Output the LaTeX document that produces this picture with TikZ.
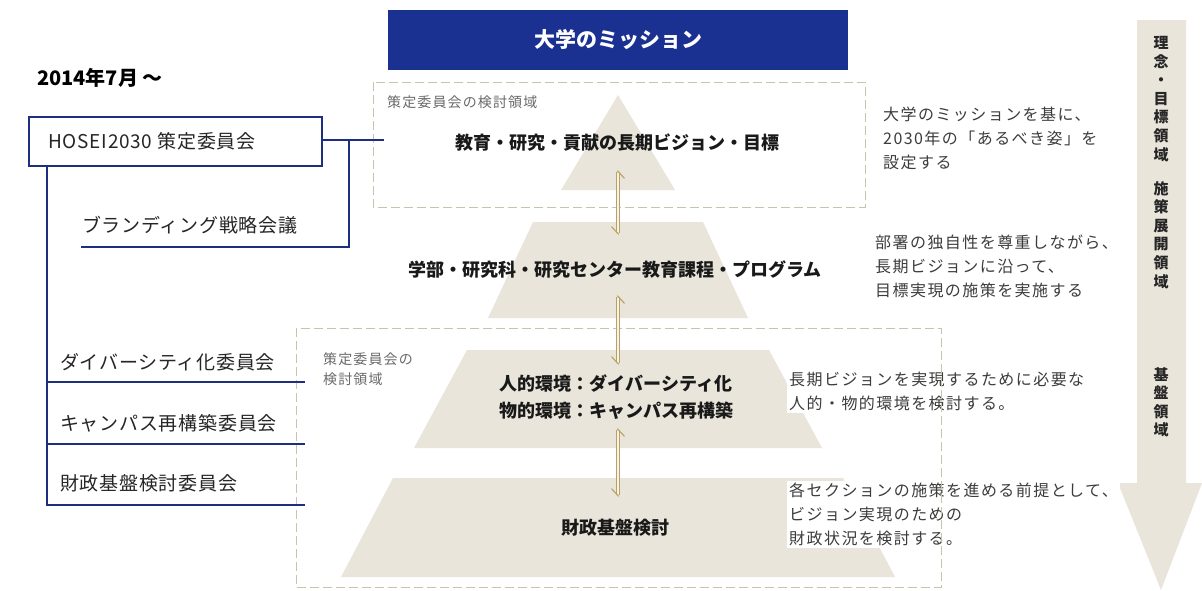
\documentclass[tikz,border=0pt]{standalone}
\usepackage{fontspec}
\setmainfont{Noto Sans CJK JP}
\usetikzlibrary{arrows.meta}
\definecolor{navy}{HTML}{1E2F80}
\definecolor{missionblue}{HTML}{1B3192}
\definecolor{tierc}{HTML}{E9E5DB}
\definecolor{dashc}{HTML}{C9C2AE}
\definecolor{goldc}{HTML}{BBA160}
\definecolor{descc}{HTML}{3C3C3C}
\definecolor{smallc}{HTML}{6A6A6A}
\begin{document}
\begin{tikzpicture}[x=1pt,y=-1pt,
  tiertext/.style={font=\fontsize{18}{27}\selectfont\bfseries, text=black!90, align=center, inner sep=0pt},
  desctext/.style={font=\fontsize{16}{24}\selectfont\addfontfeature{LetterSpace=9}, text=descc, align=left, anchor=north west, inner sep=2pt},
  committee/.style={font=\fontsize{19}{22}\selectfont\addfontfeature{LetterSpace=4}, text=black!85, anchor=west, inner sep=0pt},
  navyline/.style={draw=navy, line width=2.5pt},
  dashbox/.style={draw=dashc, dash pattern=on 9pt off 4pt, line width=1pt},
  smalllabel/.style={font=\fontsize{14}{20}\selectfont\addfontfeature{LetterSpace=8}, text=smallc, align=left, anchor=north west, inner sep=0pt},
  tierfill/.style={fill=tierc, draw=none},
  linkarrow/.style={draw=goldc, line width=1.1pt, double=tierc!50!white, double distance=1.6pt,
     {Straight Barb[harpoon,swap,length=7pt,width=13pt]}-{Straight Barb[harpoon,swap,length=7pt,width=13pt]}},
  sidetext/.style={font=\fontsize{15}{18.6}\selectfont\bfseries, text=black!85, align=center, anchor=north, inner sep=0pt}
]
\useasboundingbox (0,0) rectangle (1202,590);
\fill[white] (0,0) rectangle (1202,590);

% pyramid tiers
\fill[tierfill] (618,95) -- (675,190) -- (561,190) -- cycle;
\fill[tierfill] (533,222) -- (703,222) -- (748,318) -- (488,318) -- cycle;
\fill[tierfill] (467,350) -- (769,350) -- (822,448) -- (414,448) -- cycle;
\fill[tierfill] (393,478) -- (843,478) -- (895,577) -- (341,577) -- cycle;

% right side arrow
\fill[tierfill] (1137,20) -- (1186,20) -- (1186,483) -- (1202,483) -- (1161,590) -- (1118,483) -- (1137,483) -- cycle;
\node[sidetext] (s1) at (1161,36) {理\\念\\・\\目\\標\\領\\域};
\node[sidetext] (s2) at (1161,181) {施\\策\\展\\開\\領\\域};
\node[sidetext] (s3) at (1161,367) {基\\盤\\領\\域};

% mission
\node[fill=missionblue, minimum width=460pt, minimum height=60pt, inner sep=0pt,
  font=\fontsize{21}{24}\selectfont\bfseries, text=white] (mission) at (618,40) {大学のミッション};

% tier texts
\node[tiertext] (t1) at (617,143) {教育・研究・貢献の長期ビジョン・目標};
\node[tiertext] (t2) at (615,270) {学部・研究科・研究センター教育課程・プログラム};
\node[tiertext] (t3) at (616,397) {人的環境：ダイバーシティ化\\物的環境：キャンパス再構築};
\node[tiertext] (t4) at (615,528) {財政基盤検討};

% descriptions
\node[desctext] (d1) at (881,105) {大学のミッションを基に、\\2030年の「あるべき姿」を\\設定する};
\node[desctext] (d2) at (873,233) {部署の独自性を尊重しながら、\\長期ビジョンに沿って、\\目標実現の施策を実施する};
\node[desctext, fill=white] (d3) at (787,370) {長期ビジョンを実現するために必要な\\人的・物的環境を検討する。};
\node[desctext, fill=white] (d4) at (787,481) {各セクションの施策を進める前提として、\\ビジョン実現のための\\財政状況を検討する。};

% dashed areas
\draw[dashbox] (373,82) rectangle (865,207);
\draw[dashbox] (296,328) rectangle (941,587);
\node[smalllabel] (l1) at (387,95) {策定委員会の検討領域};
\node[smalllabel] (l2) at (323,352) {策定委員会の\\検討領域};

% link arrows between tiers
\coordinate (a1t) at (618,170); \coordinate (a1b) at (618,235);
\coordinate (a2t) at (618,295); \coordinate (a2b) at (618,365);
\coordinate (a3t) at (618,428); \coordinate (a3b) at (618,497);
\draw[linkarrow] (a1t) -- (a1b);
\draw[linkarrow] (a2t) -- (a2b);
\draw[linkarrow] (a3t) -- (a3b);

% left side
\node[font=\fontsize{20}{22}\selectfont\bfseries, anchor=west, inner sep=0pt] (date) at (37,78) {2014年7月\hspace{4pt}～};
\node[draw=navy, line width=2.5pt, minimum width=293pt, minimum height=49pt, inner sep=0pt] (hosei) at (175.5,141.5) {};
\node[committee] (hoseit) at (48,141.5) {HOSEI2030 策定委員会};
\coordinate (hr) at (384,140);
\draw[navyline] (hosei.east |- hr) -- (hr);
\coordinate (bj) at (349,140);
\coordinate (bend) at (349,247);
\coordinate (bl) at (81,247);
\draw[navyline] (bj) -- (bend) -- (bl);
\node[committee] (brand) at (82,225) {ブランディング戦略会議};

\coordinate (vtop) at (47,166);
\coordinate (c1) at (47,382); \coordinate (c1r) at (305,382);
\coordinate (c2) at (47,444); \coordinate (c2r) at (305,444);
\coordinate (c3) at (47,505); \coordinate (c3r) at (305,505);
\draw[navyline] (vtop) -- (c3) -- (c3r);
\draw[navyline] (c1) -- (c1r);
\draw[navyline] (c2) -- (c2r);
\node[committee] (k1) at (60,362) {ダイバーシティ化委員会};
\node[committee] (k2) at (60,423) {キャンパス再構築委員会};
\node[committee] (k3) at (60,483) {財政基盤検討委員会};
\end{tikzpicture}
\end{document}
